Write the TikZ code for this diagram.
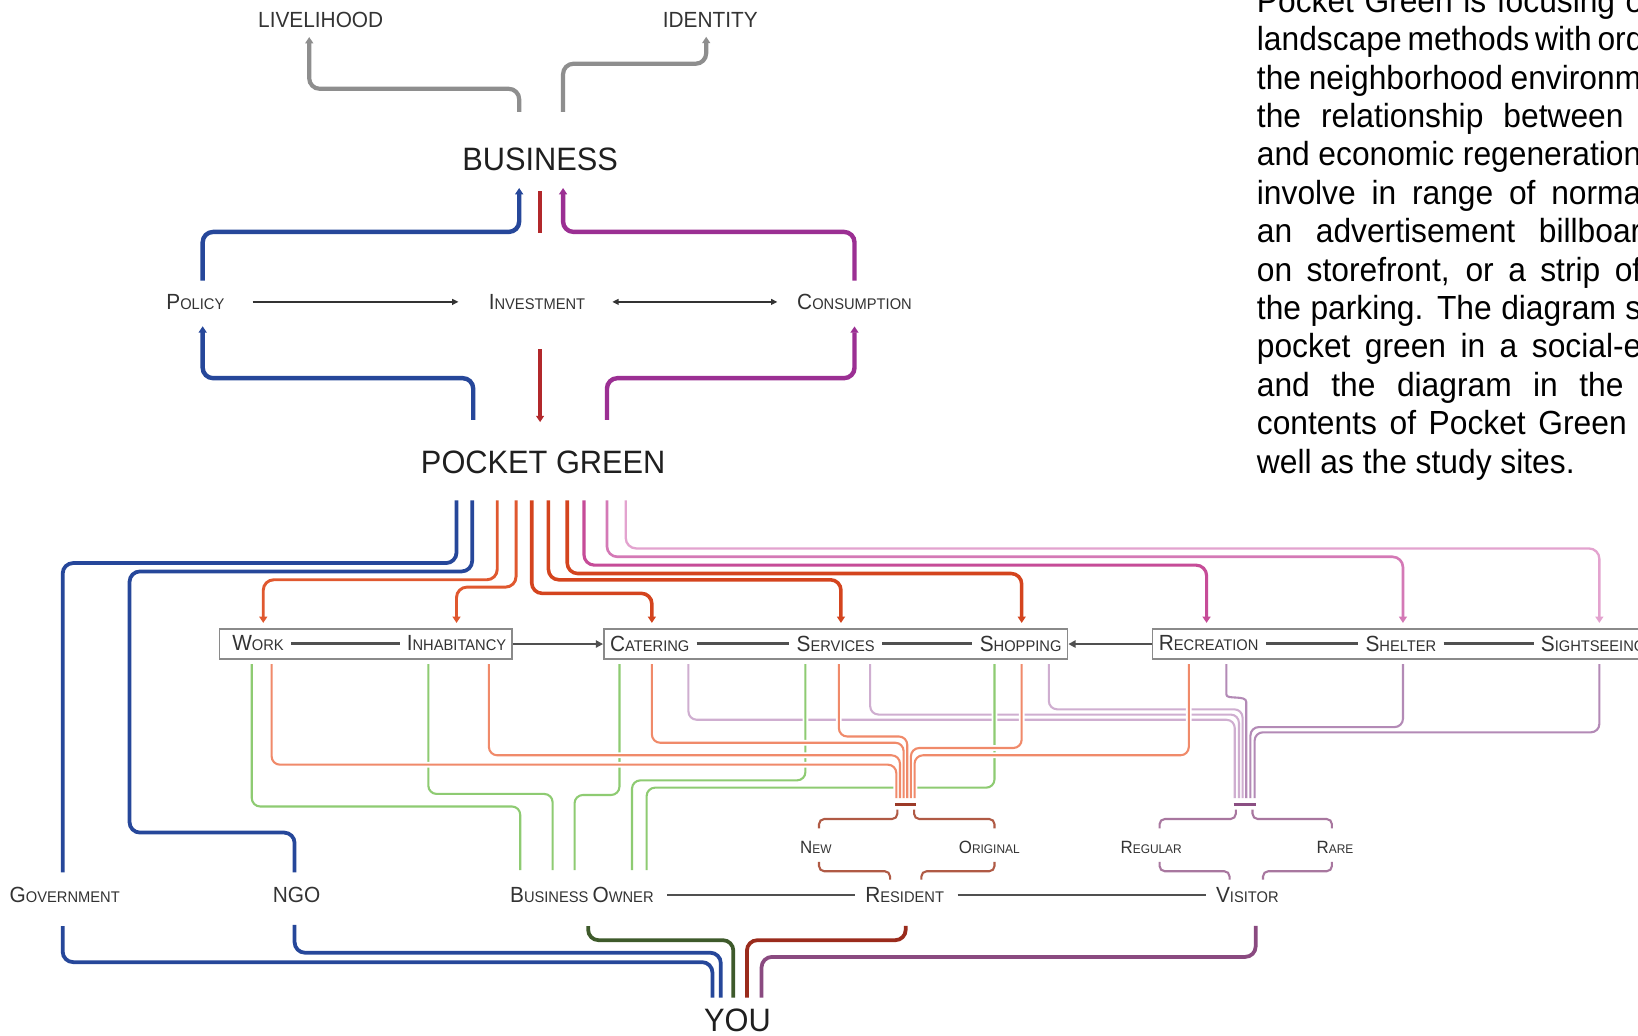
\documentclass[tikz,border=0pt]{standalone}
\usepackage{fontspec}
\setmainfont{Liberation Sans}[FakeStretch=0.95]
\usetikzlibrary{arrows.meta,calc}
\definecolor{ink}{HTML}{333333}
\definecolor{boxgray}{HTML}{8A8A8A}
\definecolor{joingray}{HTML}{505050}
\definecolor{greyline}{HTML}{8E8E8E}
\definecolor{dblue}{HTML}{26479A}
\definecolor{dpurple}{HTML}{9B2F93}
\definecolor{dred}{HTML}{B2282B}
\definecolor{orng}{HTML}{E0582F}
\definecolor{redor}{HTML}{D4441E}
\definecolor{magen}{HTML}{C64C98}
\definecolor{pinkm}{HTML}{D479B6}
\definecolor{pinkl}{HTML}{E3A3CF}
\definecolor{salmon}{HTML}{F08A6A}
\definecolor{lgreen}{HTML}{8ECB72}
\definecolor{mauvel}{HTML}{CFAED0}
\definecolor{mauved}{HTML}{B38AB6}
\definecolor{brick}{HTML}{B05A45}
\definecolor{barred}{HTML}{9C3A28}
\definecolor{plum}{HTML}{A8779F}
\definecolor{barplum}{HTML}{8B4F83}
\definecolor{olive}{HTML}{3E5A2B}
\definecolor{maroon}{HTML}{9A2B1C}
\definecolor{grape}{HTML}{8A4A80}
\newcommand\capsA[2]{{\fontsize{21}{21}\selectfont #1}{\fontsize{14.8}{14.8}\selectfont #2}}
\newcommand\capsB[2]{{\fontsize{17}{17}\selectfont #1}{\fontsize{12}{12}\selectfont #2}}
\newcommand\ptxt[2]{\makebox[#1pt][s]{#2}}
\newcommand\mauvepaths[1]{%
  \draw[#1, draw=mauvel] (box2.south -| 659,0) ++(0,4) |- (1182,689) -- (1182,764);
  \draw[#1, draw=mauvel] (box2.south -| 833,0) ++(0,4) |- (1186,684) -- (1186,764);
  \draw[#1, draw=mauvel] (box2.south -| 1004,0) ++(0,4) |- (1189.5,679) -- (1189.5,764);
  \draw[#1, draw=mauved] (box3.south -| 1174,0) ++(0,4) -- (1174,657) .. controls (1174,670) and (1193,665) .. (1193,680) -- (1193,764);
  \draw[#1, draw=mauved] (box3.south -| 1343,0) ++(0,4) |- (1197,696) -- (1197,764);
  \draw[#1, draw=mauved] (box3.south -| 1531,0) ++(0,4) |- (1201,701) -- (1201,764);}
\newcommand\greenpaths[1]{%
  \draw[#1] (box1.south -| 241,0) ++(0,4) |- (498,772) -- (498,833);
  \draw[#1] (box1.south -| 410,0) ++(0,4) |- (529,760) -- (529,833);
  \draw[#1] (box2.south -| 593,0) ++(0,4) |- (550,761) -- (550,833);
  \draw[#1] (box2.south -| 771,0) ++(0,4) |- (605,747) -- (605,833);
  \draw[#1] (box2.south -| 952,0) ++(0,4) |- (619,754) -- (619,833);}
\newcommand\orangepaths[1]{%
  \draw[#1] (box1.south -| 260,0) ++(0,4) |- (858,732) -- (858,764);
  \draw[#1] (box1.south -| 468,0) ++(0,4) |- (861.5,723) -- (861.5,764);
  \draw[#1] (box2.south -| 624,0) ++(0,4) |- (865,711) -- (865,764);
  \draw[#1] (box2.south -| 803,0) ++(0,4) |- (868.5,705) -- (868.5,764);
  \draw[#1] (box2.south -| 978,0) ++(0,4) |- (872,716) -- (872,764);
  \draw[#1] (box3.south -| 1138,0) ++(0,4) |- (875.5,723) -- (875.5,764);}
\tikzset{
 lbl/.style={text=ink, inner sep=0pt, outer sep=0pt},
 bigl/.style={lbl, font=\fontsize{31}{31}\selectfont, text=black!88},
 midl/.style={lbl, font=\fontsize{21}{21}\selectfont},
 scl/.style={lbl, font=\fontsize{14.8}{14.8}\selectfont},
 subl/.style={lbl, font=\fontsize{12}{12}\selectfont},
 para/.style={inner sep=0pt, anchor=base west, font=\fontsize{32}{36}\selectfont, text=black},
 boxst/.style={draw=boxgray, line width=1.4pt, fill=white, minimum height=29pt, inner sep=0pt},
 headA/.style={-{Triangle[length=6pt,width=7.5pt]}},
 headS/.style={-{Triangle[length=6pt,width=5.5pt]}},
 conn/.style={rounded corners=10pt},
 greyln/.style={conn, draw=greyline, line width=4pt},
 joinln/.style={draw=joingray, line width=2pt, shorten <=7pt, shorten >=7pt},
 thinarr/.style={draw=ink, line width=1.5pt},
 halo/.style={draw=white, line width=5.5pt, rounded corners=8pt},
 greenln/.style={draw=lgreen, line width=2pt, rounded corners=8pt},
 orangeln/.style={draw=salmon, line width=2pt, rounded corners=8pt},
 mauveln/.style={line width=2pt, rounded corners=8pt},
 bracel/.style={line width=2pt, rounded corners=5pt},
}
\begin{document}
\begin{tikzpicture}[x=1pt,y=-1pt]
\useasboundingbox (0,0) rectangle (1568,991);
\clip (0,0) rectangle (1568,991);
\fill[white] (0,0) rectangle (1568,991);

% ---------- paragraph ----------
\node[para] (p1) at (1203,11.8) {\ptxt{370}{Pocket Green is focusing o}};
\node[para] (p2) at (1203,48.6) {\ptxt{368}{landscape methods with ord}};
\node[para] (p3) at (1203,85.3) {\ptxt{368}{the neighborhood environm}};
\node[para] (p4) at (1203,122.1) {\ptxt{351}{the relationship between}};
\node[para] (p5) at (1203,158.8) {\ptxt{368}{and economic regeneration}};
\node[para] (p6) at (1203,195.6) {\ptxt{368}{involve in range of norma}};
\node[para] (p7) at (1203,232.4) {\ptxt{368}{an advertisement billboar}};
\node[para] (p8) at (1203,269.1) {\ptxt{368}{on storefront, or a strip of}};
\node[para] (p9) at (1203,305.9) {\ptxt{368}{the parking. The diagram s}};
\node[para] (p10) at (1203,342.6) {\ptxt{368}{pocket green in a social-e}};
\node[para] (p11) at (1203,379.4) {\ptxt{351}{and the diagram in the}};
\node[para] (p12) at (1203,416.2) {\ptxt{354}{contents of Pocket Green}};
\node[para] (p13) at (1203,452.9) {well as the study sites.};

% ---------- top labels ----------
\node[midl] (liv) at (307,19) {LIVELIHOOD};
\node[midl] (ident) at (680,19) {IDENTITY};
\node[bigl] (business) at (517,153) {BUSINESS};
\node[bigl] (pocket) at (520,443) {POCKET GREEN};
\node[bigl] (you) at (706,977) {YOU};
\node[scl] (policy) at (187,289) {\capsA{P}{OLICY}};
\node[scl] (invest) at (514,289) {\capsA{I}{NVESTMENT}};
\node[scl] (consum) at (818,289) {\capsA{C}{ONSUMPTION}};

% grey arrows
\draw[greyln, headA] (business.north -| 497,0) ++(0,-35) |- (296,85) -- ($(liv.south -| 296,0)+(0,9)$);
\draw[greyln, headA] (business.north -| 539,0) ++(0,-35) |- (676,61) -- ($(ident.south -| 676,0)+(0,9)$);

% business block
\draw[conn, draw=dblue, line width=4.2pt, headA] (policy.north -| 194,0) ++(0,-13) |- (497,222) -- ($(business.south -| 497,0)+(0,16)$);
\draw[draw=dred, line width=3.2pt] (business.south -| 517,0) ++(0,19) -- (517,223);
\draw[conn, draw=dpurple, line width=4.2pt, headA] (consum.north -| 818,0) ++(0,-13) |- (539,222) -- ($(business.south -| 539,0)+(0,16)$);
\draw[thinarr, headS, shorten <=27pt, shorten >=29pt] (policy.east) -- (invest.west);
\draw[thinarr, {Triangle[length=6pt,width=5.5pt]}-{Triangle[length=6pt,width=5.5pt]}, shorten <=26pt, shorten >=19pt] (invest.east) -- (consum.west);
\draw[conn, draw=dblue, line width=4.2pt, headA] (pocket.north -| 453,0) ++(0,-30) |- (194,362) -- ($(policy.south -| 194,0)+(0,16)$);
\draw[draw=dred, line width=3.2pt, headA] (invest.south -| 517,0) ++(0,38) -- ($(pocket.north -| 517,0)+(0,-28)$);
\draw[conn, draw=dpurple, line width=4.2pt, headA] (pocket.north -| 581,0) ++(0,-30) |- (818,362) -- ($(consum.south -| 818,0)+(0,16)$);

% ---------- boxes row ----------
\node[boxst, minimum width=280pt] (box1) at (350,616.5) {};
\node[boxst, minimum width=444pt] (box2) at (800,616.5) {};
\node[boxst, minimum width=497pt] (box3) at (1351.5,616.5) {};
\node[scl] (work) at (247,616) {\capsA{W}{ORK}};
\node[scl] (inhab) at (437,616) {\capsA{I}{NHABITANCY}};
\node[scl] (cat) at (622,616) {\capsA{C}{ATERING}};
\node[scl] (serv) at (800,616) {\capsA{S}{ERVICES}};
\node[scl] (shop) at (977,616) {\capsA{S}{HOPPING}};
\node[scl] (rec) at (1157,616) {\capsA{R}{ECREATION}};
\node[scl] (shel) at (1341,616) {\capsA{S}{HELTER}};
\node[scl] (sight) at (1525,616) {\capsA{S}{IGHTSEEING}};
\draw[joinln] (work) -- (inhab);
\draw[joinln] (cat) -- (serv);
\draw[joinln] (serv) -- (shop);
\draw[joinln] (rec) -- (shel);
\draw[joinln] (shel) -- (sight);
\draw[draw=joingray, line width=2pt, -{Triangle[length=7pt,width=7pt]}] (box1.east) -- (box2.west);
\draw[draw=joingray, line width=2pt, -{Triangle[length=7pt,width=7pt]}] (box3.west) -- (box2.east);

% ---------- lines from POCKET GREEN ----------
\draw[conn, draw=dblue, line width=3.6pt] (pocket.south -| 437,0) ++(0,25) |- (60,539) -- (60,835);
\draw[conn, draw=dblue, line width=3.6pt] (pocket.south -| 452,0) ++(0,25) |- (124,547) |- (282,797) -- (282,835);
\draw[conn, draw=orng, line width=2.8pt, headA] (pocket.south -| 476,0) ++(0,25) |- (252,555) -- ($(box1.north -| 252,0)+(0,-5)$);
\draw[conn, draw=orng, line width=2.8pt, headA] (pocket.south -| 494,0) ++(0,25) |- (437,562) -- ($(box1.north -| 437,0)+(0,-5)$);
\draw[conn, draw=redor, line width=3.4pt, headA] (pocket.south -| 509,0) ++(0,25) |- (624,568) -- ($(box2.north -| 624,0)+(0,-5)$);
\draw[conn, draw=redor, line width=3.4pt, headA] (pocket.south -| 525,0) ++(0,25) |- (805,555) -- ($(box2.north -| 805,0)+(0,-5)$);
\draw[conn, draw=redor, line width=3.4pt, headA] (pocket.south -| 543,0) ++(0,25) |- (978,549) -- ($(box2.north -| 978,0)+(0,-5)$);
\draw[conn, draw=magen, line width=3pt, headA] (pocket.south -| 559,0) ++(0,25) |- (1155,541) -- ($(box3.north -| 1155,0)+(0,-5)$);
\draw[conn, draw=pinkm, line width=2.5pt, headA] (pocket.south -| 581,0) ++(0,25) |- (1343,533) -- ($(box3.north -| 1343,0)+(0,-5)$);
\draw[conn, draw=pinkl, line width=2.2pt, headA] (pocket.south -| 599,0) ++(0,25) |- (1531,525) -- ($(box3.north -| 1531,0)+(0,-5)$);

% ---------- lines below boxes ----------
\mauvepaths{mauveln}
\greenpaths{halo}
\greenpaths{greenln}
\orangepaths{halo}
\orangepaths{orangeln}
\draw[draw=barred, line width=3.5pt] (857,770) -- (877,770);
\draw[draw=barplum, line width=3.5pt] (1181,770) -- (1202,770);

% ---------- people ----------
\node[scl] (gov) at (62,857) {\capsA{G}{OVERNMENT}};
\node[midl] (ngo) at (284,857) {NGO};
\node[scl] (bown) at (557,857) {\capsA{B}{USINESS} \capsA{O}{WNER}};
\node[scl] (res) at (866,857) {\capsA{R}{ESIDENT}};
\node[scl] (vis) at (1194,857) {\capsA{V}{ISITOR}};
\draw[joinln, shorten <=13pt, shorten >=10pt] (bown) -- (res);
\draw[joinln, shorten <=13pt, shorten >=10pt] (res) -- (vis);
\node[subl] (new) at (781,811) {\capsB{N}{EW}};
\node[subl] (orig) at (947,811) {\capsB{O}{RIGINAL}};
\node[subl] (reg) at (1102,811) {\capsB{R}{EGULAR}};
\node[subl] (rare) at (1278,811) {\capsB{R}{ARE}};

% braces
\draw[bracel, draw=brick] (859,775) |- (784,784) -- (784,793);
\draw[bracel, draw=brick] (875,775) |- (952,784) -- (952,793);
\draw[bracel, draw=brick] (784,825) |- (852,834) -- (852,842);
\draw[bracel, draw=brick] (952,825) |- (882,834) -- (882,842);
\draw[bracel, draw=plum] (1183,775) |- (1110,784) -- (1110,793);
\draw[bracel, draw=plum] (1199,775) |- (1275,784) -- (1275,793);
\draw[bracel, draw=plum] (1110,825) |- (1177,834) -- (1177,842);
\draw[bracel, draw=plum] (1275,825) |- (1209,834) -- (1209,842);

% ---------- to YOU ----------
\draw[conn, draw=dblue, line width=3.6pt] (gov.south -| 60,0) ++(0,22) |- (682,921) -- ($(you.north -| 682,0)+(0,-11)$);
\draw[conn, draw=dblue, line width=3.6pt] (ngo.south -| 282,0) ++(0,21) |- (690,912) -- ($(you.north -| 690,0)+(0,-11)$);
\draw[conn, draw=olive, line width=3.6pt] (bown.south -| 563,0) ++(0,22) |- (702,900) -- ($(you.north -| 702,0)+(0,-11)$);
\draw[conn, draw=maroon, line width=3.6pt] (res.south -| 867,0) ++(0,22) |- (715,900) -- ($(you.north -| 715,0)+(0,-11)$);
\draw[conn, draw=grape, line width=3.6pt] (vis.south -| 1202,0) ++(0,22) |- (729,916) -- ($(you.north -| 729,0)+(0,-11)$);
\end{tikzpicture}
\end{document}
